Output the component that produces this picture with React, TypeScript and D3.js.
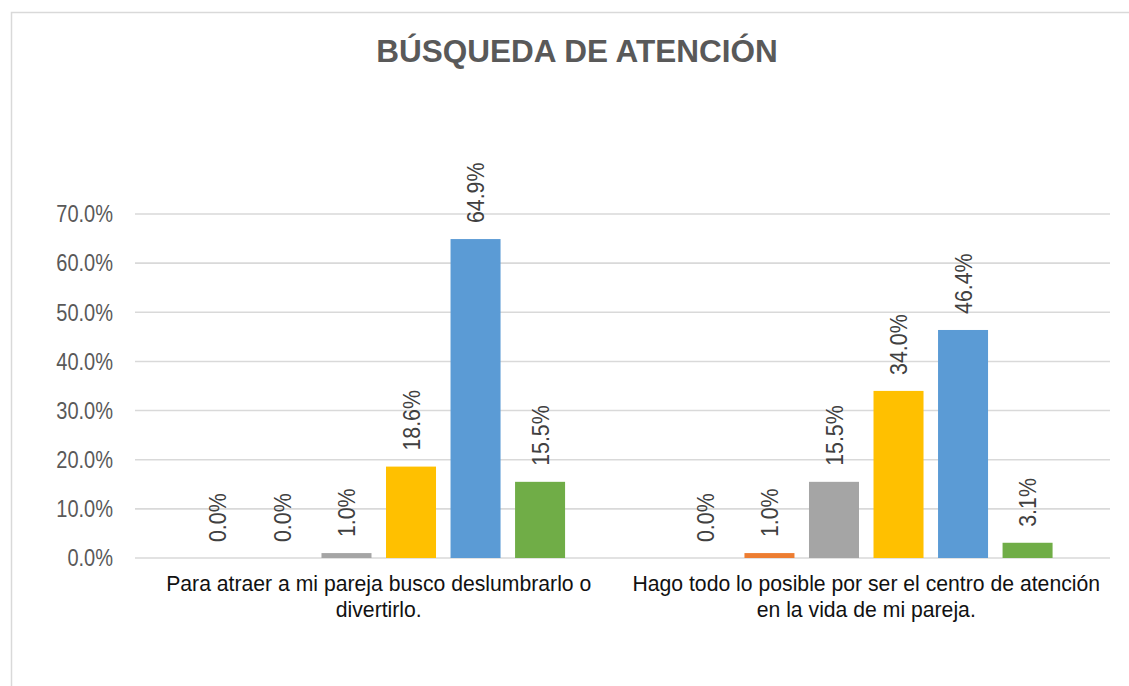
import React from 'react';
import * as d3 from 'd3';

// categories (each label split in lines as in the chart)
const categories = [
  'Para atraer a mi pareja busco deslumbrarlo o divertirlo.',
  'Hago todo lo posible por ser el centro de atención en la vida de mi pareja.',
];
const categoryLines = [
  ['Para atraer a mi pareja busco deslumbrarlo o', 'divertirlo.'],
  ['Hago todo lo posible por ser el centro de atención', 'en la vida de mi pareja.'],
];

const series = ['s1', 's2', 's3', 's4', 's5', 's6'];
const colors = ['#4472C4', '#ED7D31', '#A5A5A5', '#FFC000', '#5B9BD5', '#70AD47'];

// values per series, one per category
const values = [
  [0.0, 0.0],
  [0.0, 0.01],
  [0.01, 0.155],
  [0.186, 0.34],
  [0.649, 0.464],
  [0.155, 0.031],
];

const yTicks = [0, 0.1, 0.2, 0.3, 0.4, 0.5, 0.6, 0.7];

const W = 1129;
const H = 686;
const margin = { left: 135, right: 19, top: 214, bottom: 128 };

const App = () => {
  const x0 = d3.scaleBand()
    .domain(categories)
    .range([margin.left, W - margin.right])
    .padding(0);

  const x1 = d3.scaleBand()
    .domain(series)
    .range([0, x0.bandwidth()])
    .paddingInner(0.225)
    .paddingOuter(0.89);

  const y = d3.scaleLinear()
    .domain([0, 0.7])
    .range([H - margin.bottom, margin.top]);

  const fmt = d3.format('.1%');
  const font = '"Liberation Sans", Arial, sans-serif';

  return (
    <svg width={W} height={H} style={{ position: 'absolute', left: 0, top: 0, fontFamily: font }}>
      <rect x={0} y={0} width={W} height={H} fill="#fff" />
      <rect x={11.5} y={12.5} width={1300} height={900} fill="#fff" stroke="#d9d9d9" strokeWidth={1.5} />

      <text x={577} y={62} textAnchor="middle" fontSize={31.5} fontWeight="bold" fill="#595959">
        BÚSQUEDA DE ATENCIÓN
      </text>

      {/* gridlines and y axis labels */}
      {yTicks.map((t) => (
        <g key={t}>
          <line x1={margin.left} x2={W - margin.right} y1={y(t)} y2={y(t)} stroke="#d9d9d9" strokeWidth={1.6} />
          <text
            transform={`translate(113,${y(t)}) scale(0.87,1)`}
            dy="0.36em"
            textAnchor="end"
            fontSize={23}
            fill="#595959"
          >
            {fmt(t)}
          </text>
        </g>
      ))}

      {/* bars */}
      {categories.map((c, ci) => (
        <g key={c} transform={`translate(${x0(c)},0)`}>
          {series.map((s, si) => {
            const v = values[si][ci];
            const bx = x1(s)!;
            const cx = bx + x1.bandwidth() / 2;
            const top = y(v);
            return (
              <g key={s}>
                {v > 0 && (
                  <rect x={bx} y={top} width={x1.bandwidth()} height={y(0) - top} fill={colors[si]} />
                )}
                <text
                  transform={`translate(${cx},${top - 16}) rotate(-90) scale(0.89,1)`}
                  dy="0.36em"
                  textAnchor="start"
                  fontSize={24}
                  fill="#404040"
                >
                  {fmt(v)}
                </text>
              </g>
            );
          })}
        </g>
      ))}

      {/* category labels */}
      {categories.map((c, ci) => (
        <text key={c} x={x0(c)! + x0.bandwidth() / 2} y={591} textAnchor="middle" fontSize={21.2} fill="#111">
          {categoryLines[ci].map((ln, li) => (
            <tspan key={li} x={x0(c)! + x0.bandwidth() / 2} dy={li === 0 ? 0 : 26}>
              {ln}
            </tspan>
          ))}
        </text>
      ))}
    </svg>
  );
};

export default App;
